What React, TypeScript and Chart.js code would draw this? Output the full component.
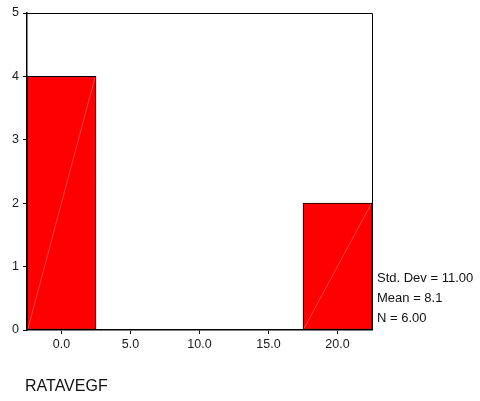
import React, { useEffect, useRef } from "react";
import { Chart, registerables } from "chart.js";

Chart.register(...registerables);

const binLabels = ["0.0", "5.0", "10.0", "15.0", "20.0"];
const counts = [4, 0, 0, 0, 2];
const yTicks = [0, 1, 2, 3, 4, 5];
const statsLines = ["Std. Dev = 11.00", "Mean = 8.1", "N = 6.00"];
const variableName = "RATAVEGF";

const framePlugin = {
  id: "frameAndDiagonals",
  afterDatasetsDraw(chart: any) {
    const ctx = chart.ctx;
    const meta = chart.getDatasetMeta(0);
    ctx.save();
    ctx.strokeStyle = "rgba(255,160,160,0.7)";
    ctx.lineWidth = 0.6;
    meta.data.forEach((el: any) => {
      const p = el.getProps(["x", "y", "base", "width"], true);
      if (Math.abs(p.base - p.y) < 1) return;
      ctx.beginPath();
      ctx.moveTo(p.x - p.width / 2 + 1, p.base - 1);
      ctx.lineTo(p.x + p.width / 2 - 1, p.y + 1);
      ctx.stroke();
    });
    const a = chart.chartArea;
    ctx.strokeStyle = "#000";
    ctx.lineWidth = 1;
    ctx.beginPath();
    ctx.moveTo(a.left, a.top + 0.5);
    ctx.lineTo(a.right + 0.5, a.top + 0.5);
    ctx.lineTo(a.right + 0.5, a.bottom);
    ctx.stroke();
    ctx.restore();
  },
};

export default function App() {
  const ref = useRef<HTMLCanvasElement>(null);
  useEffect(() => {
    document.body.style.margin = "0";
    const chart = new Chart(ref.current!, {
      type: "bar",
      data: {
        labels: binLabels,
        datasets: [
          {
            data: counts,
            backgroundColor: "#ff0000",
            borderColor: "#000",
            borderWidth: 1,
            borderSkipped: false,
            categoryPercentage: 1,
            barPercentage: 1,
          },
        ],
      },
      options: {
        animation: false,
        responsive: false,
        devicePixelRatio: 1,
        layout: { padding: { top: 13, right: 108, left: 0, bottom: 0 } },
        plugins: { legend: { display: false }, tooltip: { enabled: false }, title: { display: false } },
        scales: {
          x: {
            grid: { offset: false, drawOnChartArea: false, drawTicks: true, tickLength: 4, color: "#000" },
            border: { display: true, color: "#000", width: 1.5 },
            ticks: { color: "#1a1a1a", font: { family: "Arial, 'Liberation Sans'", size: 12.5 }, padding: 3, maxRotation: 0 },
            afterFit: (s: any) => { s.height = 71; },
          },
          y: {
            min: 0,
            max: 5,
            afterBuildTicks: (s: any) => { s.ticks = yTicks.map((v) => ({ value: v })); },
            grid: { drawOnChartArea: false, drawTicks: true, tickLength: 4, color: "#000" },
            border: { display: true, color: "#000", width: 1.5 },
            ticks: { color: "#1a1a1a", font: { family: "Arial, 'Liberation Sans'", size: 12.5 }, padding: 4 },
            afterFit: (s: any) => { s.width = 27; },
          },
        },
      },
      plugins: [framePlugin],
    });
    return () => chart.destroy();
  }, []);

  const textStyle: React.CSSProperties = {
    position: "absolute",
    fontFamily: "Arial, 'Liberation Sans', sans-serif",
    color: "#111",
    whiteSpace: "nowrap",
  };

  return (
    <div style={{ position: "relative", width: 480, height: 401, background: "#fff" }}>
      <canvas ref={ref} width={480} height={401} style={{ display: "block" }} />
      <div style={{ ...textStyle, left: 377, top: 267.5, fontSize: 13, lineHeight: "20px" }}>
        {statsLines.map((l) => (
          <div key={l}>{l}</div>
        ))}
      </div>
      <div style={{ ...textStyle, left: 25, top: 377.5, fontSize: 16, lineHeight: "16px" }}>{variableName}</div>
    </div>
  );
}
